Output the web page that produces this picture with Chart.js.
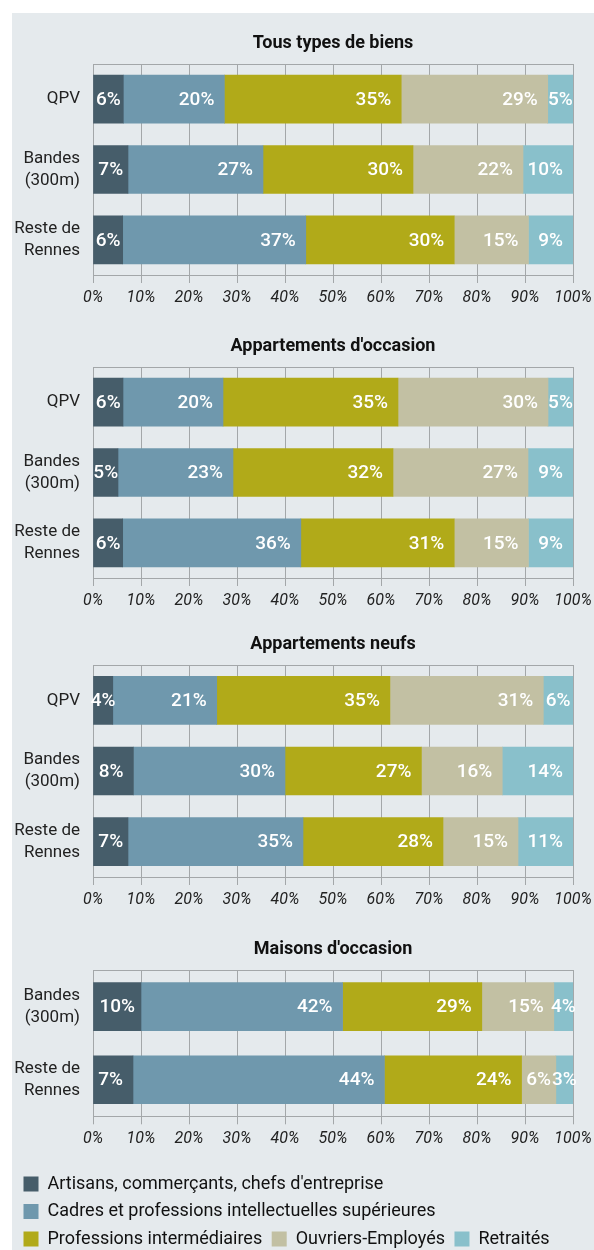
<!DOCTYPE html>
<html lang="fr">
<head>
<meta charset="utf-8">
<title>Profil des acquéreurs à Rennes</title>
<script src="https://cdn.jsdelivr.net/npm/chart.js@4.4.1/dist/chart.umd.min.js"></script>
<style>
  html, body { margin: 0; padding: 0; background: #fff; overflow: hidden; }
  #fond { position: absolute; left: 12px; top: 13px; width: 582px; height: 1237px; background: #e5eaed; }
  .bloc { position: absolute; left: 0; width: 594px; }
</style>
</head>
<body>
<div id="fond"></div>
<div class="bloc" style="top:22px;height:291px"><canvas id="tous"></canvas></div>
<div class="bloc" style="top:325px;height:291px"><canvas id="occasion"></canvas></div>
<div class="bloc" style="top:623px;height:292px"><canvas id="neufs"></canvas></div>
<div class="bloc" style="top:928px;height:330px"><canvas id="maisons"></canvas></div>
<script>
// catégories socio-professionnelles des acquéreurs
const categories = [
  "Artisans, commerçants, chefs d'entreprise",
  'Cadres et professions intellectuelles supérieures',
  'Professions intermédiaires',
  'Ouvriers-Employés',
  'Retraités'
];
const couleurs = ['#465d6a', '#6f98ad', '#b1aa19', '#c2c0a3', '#89c0cb'];

const zones3 = ['QPV', ['Bandes', '(300m)'], ['Reste de', 'Rennes']];
const zones2 = [['Bandes', '(300m)'], ['Reste de', 'Rennes']];

// parts en % (dans l'ordre des catégories)
const tousQPV = [6, 20, 35, 29, 5];
const tousBandes = [7, 27, 30, 22, 10];
const tousReste = [6, 37, 30, 15, 9];

const occasionQPV = [6, 20, 35, 30, 5];
const occasionBandes = [5, 23, 32, 27, 9];
const occasionReste = [6, 36, 31, 15, 9];

const neufsQPV = [4, 21, 35, 31, 6];
const neufsBandes = [8, 30, 27, 16, 14];
const neufsReste = [7, 35, 28, 15, 11];

const maisonsBandes = [10, 42, 29, 15, 4];
const maisonsReste = [7, 44, 24, 6, 3];

const police = "Roboto, 'Liberation Sans', sans-serif";
const gris = '#a3a7a9';
Chart.defaults.font.family = police;

// trait du haut du cadre
const cadreHaut = {
  id: 'cadreHaut',
  beforeDatasetsDraw(chart) {
    const { ctx, chartArea: a } = chart;
    ctx.save();
    ctx.strokeStyle = gris;
    ctx.lineWidth = 1;
    ctx.beginPath();
    ctx.moveTo(a.left, a.top + 0.5);
    ctx.lineTo(a.right, a.top + 0.5);
    ctx.stroke();
    ctx.restore();
  }
};

// valeurs écrites dans les barres
const etiquettes = {
  id: 'etiquettes',
  afterDatasetsDraw(chart) {
    const ctx = chart.ctx;
    ctx.save();
    ctx.font = '500 19px ' + police;
    ctx.fillStyle = '#fff';
    ctx.textBaseline = 'middle';
    ctx.textAlign = 'left';
    chart.data.datasets.forEach((ds, i) => {
      chart.getDatasetMeta(i).data.forEach((bar, j) => {
        const { x, y, base } = bar.getProps(['x', 'y', 'base'], true);
        const texte = ds.valeurs[j] + '%';
        const w = ctx.measureText(texte).width;
        const debut = Math.min(x, base), fin = Math.max(x, base);
        let gauche = fin - 10 - w;
        if (fin - debut < w + 14) gauche = (debut + fin) / 2 - w / 2;
        ctx.fillText(texte, gauche, y + 1);
      });
    });
    ctx.restore();
  }
};

function graphique(id, titre, zones, lignes, avecLegende) {
  const datasets = categories.map((cat, k) => ({
    label: cat,
    // barres empilées à 100 %
    data: lignes.map(l => l[k] / l.reduce((a, b) => a + b, 0) * 100),
    valeurs: lignes.map(l => l[k]),
    backgroundColor: couleurs[k],
    borderWidth: 0,
    barThickness: 48
  }));

  return new Chart(document.getElementById(id), {
    type: 'bar',
    data: { labels: zones, datasets: datasets },
    options: {
      indexAxis: 'y',
      responsive: true,
      maintainAspectRatio: false,
      animation: false,
      layout: { padding: { left: 14, right: 21, top: 0, bottom: 0 } },
      scales: {
        x: {
          stacked: true,
          min: 0,
          max: 100,
          ticks: {
            stepSize: 10,
            autoSkip: false,
            maxRotation: 0,
            minRotation: 0,
            callback: v => v + '%',
            font: { size: 16, style: 'italic', lineHeight: 1.625 },
            color: '#222',
            padding: 2
          },
          grid: { color: gris, tickLength: 8 },
          border: { color: gris }
        },
        y: {
          stacked: true,
          grid: { display: false, drawTicks: false },
          border: { display: true, color: gris },
          ticks: { font: { size: 17, lineHeight: 1.3 }, color: '#222', padding: 13 },
          afterFit: s => { s.width = 79; }
        }
      },
      plugins: {
        title: {
          display: true,
          text: titre,
          fullSize: false,
          font: { size: 18, weight: 'bold' },
          color: '#111',
          padding: { top: 11, bottom: 9.4 }
        },
        legend: {
          display: avecLegende,
          position: 'bottom',
          align: 'start',
          title: { display: true, text: ' ', font: { size: 1 }, padding: { top: 0, bottom: 10 } },
          labels: {
            boxWidth: 15,
            boxHeight: 15,
            padding: 9.5,
            color: '#111',
            font: { size: 18 }
          }
        },
        tooltip: { enabled: false }
      }
    },
    plugins: [cadreHaut, etiquettes]
  });
}

graphique('tous', 'Tous types de biens', zones3, [tousQPV, tousBandes, tousReste], false);
graphique('occasion', "Appartements d'occasion", zones3, [occasionQPV, occasionBandes, occasionReste], false);
graphique('neufs', 'Appartements neufs', zones3, [neufsQPV, neufsBandes, neufsReste], false);
graphique('maisons', "Maisons d'occasion", zones2, [maisonsBandes, maisonsReste], true);
</script>
</body>
</html>
